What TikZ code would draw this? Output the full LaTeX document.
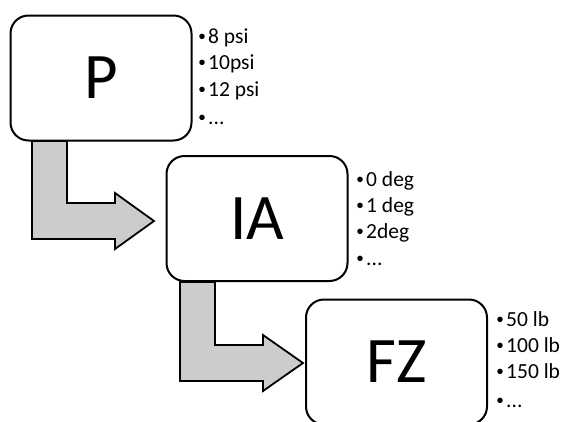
\documentclass[tikz,border=0pt]{standalone}
\usepackage{fontspec}
\setmainfont{Carlito}
\newfontfamily\bulfont{Liberation Sans}
\newcommand{\bul}{{\bulfont\fontsize{20}{24}\selectfont •}\hspace{2.5pt}}
\begin{document}
\begin{tikzpicture}[x=1pt,y=-1pt,
  box/.style={draw, line width=2pt, rounded corners=18pt, fill=white,
    minimum width=181pt, minimum height=125pt, inner sep=0pt,
    font=\fontsize{65}{70}\selectfont},
  arr/.style={draw, line width=1.8pt, fill=black!20, line join=miter},
  item/.style={anchor=base west, inner sep=0pt, font=\fontsize{21.5}{24}\selectfont}]
\useasboundingbox (0,0) rectangle (563,421);
\clip (0,0) rectangle (563,421);
% arrows
\draw[arr] (32,141) -- (67,141) -- (67,203) -- (115,203) -- (115,193) -- (154,221)
  -- (115,249) -- (115,239) -- (32,239) -- cycle;
\draw[arr] (180,282) -- (215,282) -- (215,345) -- (263,345) -- (263,335) -- (303,363)
  -- (263,391) -- (263,381) -- (180,381) -- cycle;
% boxes
\node[box] (p) at (101,78) {P};
\node[box] (ia) at (257,218.5) {IA};
\node[box] (fz) at (396.5,362) {FZ};
% lists
\node[item] (p1) at (198.5,43) {\bul 8 psi};
\node[item] (p2) at (198.5,69) {\bul 10psi};
\node[item] (p3) at (198.5,96) {\bul 12 psi};
\node[item] (p4) at (198.5,124) {\bul ...};
\node[item] (i1) at (356.5,186) {\bul 0 deg};
\node[item] (i2) at (356.5,212) {\bul 1 deg};
\node[item] (i3) at (356.5,238) {\bul 2deg};
\node[item] (i4) at (356.5,265) {\bul ...};
\node[item] (f1) at (496.5,326) {\bul 50 lb};
\node[item] (f2) at (496.5,352) {\bul 100 lb};
\node[item] (f3) at (496.5,378) {\bul 150 lb};
\node[item] (f4) at (496.5,407) {\bul ...};
\end{tikzpicture}
\end{document}
